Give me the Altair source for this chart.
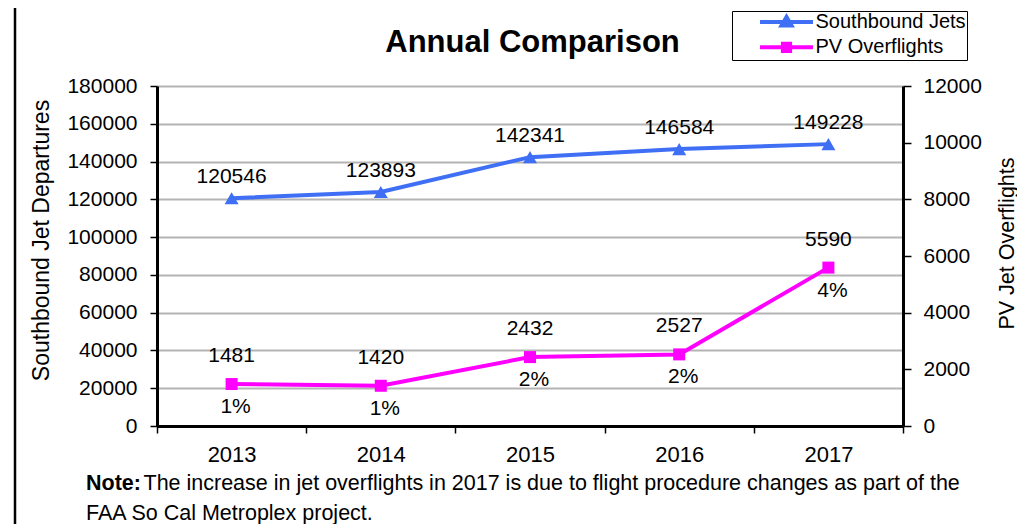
import altair as alt
import pandas as pd

# ---------------- data ----------------
years = ["2013", "2014", "2015", "2016", "2017"]
southbound = [120546, 123893, 142341, 146584, 149228]
pv_overflights = [1481, 1420, 2432, 2527, 5590]
pv_pct = ["1%", "1%", "2%", "2%", "4%"]
series_names = ["Southbound Jets", "PV Overflights"]
left_ticks = [0, 20000, 40000, 60000, 80000, 100000, 120000, 140000, 160000, 180000]
right_ticks = [0, 2000, 4000, 6000, 8000, 10000, 12000]
title_text = ["Annual Comparison"]
left_title = "Southbound  Jet Departures"
right_title = "PV Jet Overflights"
note_bold = ["Note:"]
note_line1 = ["The increase in jet overflights in 2017 is due to flight procedure changes as part of the"]
note_line2 = ["FAA So Cal Metroplex project."]

BLUE = "#3F6FF4"
MAGENTA = "#FF00FF"
FONT = "Liberation Sans, Arial, Helvetica, sans-serif"

sb_df = pd.DataFrame({"year": years, "value": southbound, "series": series_names[0]})
pv_df = pd.DataFrame({"year": years, "value": pv_overflights, "pct": pv_pct,
                      "series": series_names[1]})
legend_df = pd.DataFrame({"series": series_names})

W, H = 1009, 516
PL, PT, PW, PH = 149, 78, 746, 340

# ---------------- encodings ----------------
x_enc = alt.X(
    "year:N", sort=years,
    scale=alt.Scale(type="band", paddingInner=0, paddingOuter=0),
    axis=alt.Axis(title=None, labelAngle=0, tickBand="extent", grid=False,
                  domainColor="black", domainWidth=3, tickColor="black",
                  tickWidth=1.5, tickSize=7, labelFont=FONT, labelFontSize=22,
                  labelColor="black", labelPadding=11),
)

y_left = alt.Y(
    "value:Q",
    scale=alt.Scale(domain=[0, 180000], nice=False, zero=True),
    axis=alt.Axis(values=left_ticks, format="d", orient="left", title=left_title,
                  grid=True, gridColor="#b4b4b4", gridWidth=2,
                  domainColor="black", domainWidth=3, tickColor="black",
                  tickWidth=1.5, tickSize=7, labelFont=FONT, labelFontSize=21,
                  labelColor="black", labelPadding=13,
                  titleFont=FONT, titleFontSize=23, titleFontWeight="normal",
                  titleColor="black", titleAngle=270, titleBaseline="alphabetic",
                  titleAlign="center", titleX=-109, titleY=154),
)

y_right = alt.Y(
    "value:Q",
    scale=alt.Scale(domain=[0, 12000], nice=False, zero=True),
    axis=alt.Axis(values=right_ticks, format="d", orient="right", title=right_title,
                  grid=False, domainColor="black", domainWidth=3, tickColor="black",
                  tickWidth=1.5, tickSize=8, labelFont=FONT, labelFontSize=21,
                  labelColor="black", labelPadding=12,
                  titleFont=FONT, titleFontSize=21.5, titleFontWeight="normal",
                  titleColor="black", titleAngle=270, titleBaseline="alphabetic",
                  titleAlign="center", titleX=110, titleY=157),
)

tri_path = "M-3.31,0H3.31M-0.62,0.45L0,-0.62L0.62,0.45Z"
sq_path = "M-3.31,0H3.31M-0.45,-0.45H0.45V0.45H-0.45Z"

NBSP = "\u00a0"
legend = alt.Legend(
    title=NBSP, titleOrient="left", titleFontSize=20, titlePadding=25,
    orient="none", legendX=575, legendY=-75,
    strokeColor="black", padding=1, rowPadding=1.3,
    labelFont=FONT, labelFontSize=20, labelColor="black", labelLimit=400,
    symbolSize=256, symbolOffset=18.5, labelOffset=19, symbolStrokeWidth=4,
    symbolOpacity=1,
    labelExpr="datum.label + '" + NBSP * 4 + "\u2009'",
)
color_scale = alt.Scale(domain=series_names, range=[BLUE, MAGENTA])

# legend carrier layer (draws no marks itself)
legend_layer = alt.Chart(legend_df).mark_point(
    filled=True, size=256, strokeWidth=4, opacity=1
).encode(
    fill=alt.Fill("series:N", scale=color_scale, legend=legend),
    stroke=alt.Stroke("series:N", scale=color_scale, legend=legend),
    shape=alt.Shape("series:N", scale=alt.Scale(domain=series_names,
                                                range=[tri_path, sq_path]),
                    legend=legend),
).transform_filter("false")

# ---------------- left series ----------------
sb_base = alt.Chart(sb_df)
sb_line = sb_base.mark_line(strokeWidth=4, color=BLUE).encode(x=x_enc, y=y_left)
sb_pts = sb_base.mark_point(shape="triangle-up", size=196, filled=True, opacity=1,
                            color=BLUE).encode(x=x_enc, y=y_left)
sb_txt = sb_base.mark_text(dy=-21, fontSize=21, font=FONT, color="black").encode(
    x=x_enc, y=y_left, text=alt.Text("value:Q", format="d"))
left = alt.layer(sb_line, sb_pts, sb_txt)

# ---------------- right series ----------------
pv_base = alt.Chart(pv_df)
pv_line = pv_base.mark_line(strokeWidth=4, color=MAGENTA).encode(x=x_enc, y=y_right)
pv_pts = pv_base.mark_point(shape="square", size=144, filled=True, opacity=1,
                            color=MAGENTA).encode(x=x_enc, y=y_right)
pv_txt = pv_base.mark_text(dy=-28, fontSize=21, font=FONT, color="black").encode(
    x=x_enc, y=y_right, text=alt.Text("value:Q", format="d"))
pv_pct_txt = pv_base.mark_text(dy=23, dx=4, fontSize=21, font=FONT, color="black").encode(
    x=x_enc, y=y_right, text="pct:N")
right = alt.layer(pv_line, pv_pts, pv_txt, pv_pct_txt)

# ---------------- title, note & frame ----------------
title_mark = alt.Chart(pd.DataFrame({"t": title_text})).mark_text(
    align="center", baseline="alphabetic", font=FONT, fontSize=31, fontWeight="bold",
    color="black").encode(x=alt.value(375.5), y=alt.value(-34), text="t:N")
note_a = alt.Chart(pd.DataFrame({"t": note_bold})).mark_text(
    align="left", baseline="alphabetic", font=FONT, fontSize=21.5, fontWeight="bold",
    color="black").encode(x=alt.value(-71), y=alt.value(404), text="t:N")
note_b = alt.Chart(pd.DataFrame({"t": note_line1})).mark_text(
    align="left", baseline="alphabetic", font=FONT, fontSize=21.5,
    color="black").encode(x=alt.value(-13.5), y=alt.value(404), text="t:N")
note_c = alt.Chart(pd.DataFrame({"t": note_line2})).mark_text(
    align="left", baseline="alphabetic", font=FONT, fontSize=21.5,
    color="black").encode(x=alt.value(-71), y=alt.value(434), text="t:N")
frame = alt.Chart(pd.DataFrame({"t": [0]})).mark_rule(
    color="black", strokeWidth=2.5).encode(
    x=alt.value(-142), y=alt.value(-PT), y2=alt.value(H - PT))

chart = alt.layer(left, right, legend_layer, title_mark, note_a, note_b, note_c,
                  frame).resolve_scale(
    y="independent"
).properties(
    width=PW, height=PH,
    autosize=alt.AutoSizeParams(type="none"),
    padding={"left": PL, "top": PT, "right": W - PL - PW, "bottom": H - PT - PH},
).configure_view(
    stroke="#999999", strokeWidth=3
).configure(background="white")

chart.save("out.html", embed_options={"renderer": "svg", "actions": False})
